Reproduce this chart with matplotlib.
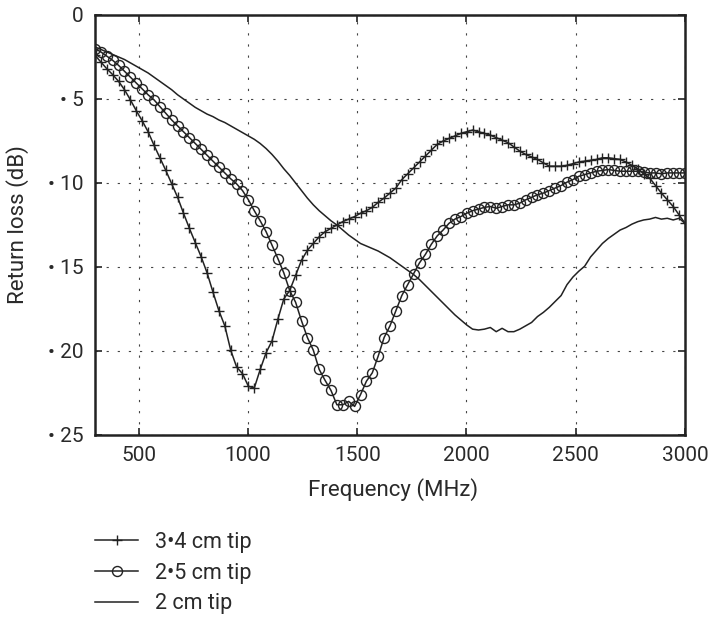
import matplotlib
matplotlib.use("Agg")
import matplotlib.pyplot as plt

plt.rcParams['font.family'] = ['Roboto', 'DejaVu Sans']

freq = [300, 327, 354, 381, 408, 435, 462, 489, 516, 543, 570, 597, 624, 651, 678, 705,
        732, 759, 786, 813, 840, 867, 894, 921, 948, 975, 1002, 1029, 1056, 1083, 1110,
        1137, 1164, 1191, 1218, 1245, 1272, 1299, 1326, 1353, 1380, 1407, 1434, 1461,
        1488, 1515, 1542, 1569, 1596, 1623, 1650, 1677, 1704, 1731, 1758, 1785, 1812,
        1839, 1866, 1893, 1920, 1947, 1974, 2001, 2028, 2055, 2082, 2109, 2136, 2163,
        2190, 2217, 2244, 2271, 2298, 2325, 2352, 2379, 2406, 2433, 2460, 2487, 2514,
        2541, 2568, 2595, 2622, 2649, 2676, 2703, 2730, 2757, 2784, 2811, 2838, 2865,
        2892, 2919, 2946, 2973, 3000]

tip_34 = [2.4, 2.8, 3.2, 3.55, 3.95, 4.45, 5.05, 5.7, 6.3, 6.95, 7.75, 8.5, 9.25, 10.05,
          10.85, 11.8, 12.7, 13.55, 14.4, 15.35, 16.5, 17.6, 18.5, 19.95, 20.95, 21.35,
          22.1, 22.2, 21.1, 20.1, 19.4, 18.1, 16.9, 16.4, 15.5, 14.6, 14.0, 13.6, 13.2,
          12.9, 12.7, 12.5, 12.3, 12.15, 12.0, 11.8, 11.65, 11.45, 11.15, 10.9, 10.6,
          10.3, 9.8, 9.45, 9.1, 8.75, 8.4, 8.05, 7.7, 7.5, 7.35, 7.2, 7.05, 6.95, 6.85,
          6.95, 7.05, 7.15, 7.3, 7.45, 7.6, 7.85, 8.1, 8.3, 8.45, 8.6, 8.8, 9.0, 9.0, 9.0,
          8.95, 8.85, 8.75, 8.7, 8.65, 8.6, 8.5, 8.5, 8.55, 8.6, 8.75, 8.95, 9.15, 9.45,
          9.7, 10.15, 10.6, 11.0, 11.4, 11.9, 12.4]

tip_25 = [2.0, 2.2, 2.45, 2.7, 3.0, 3.35, 3.7, 4.05, 4.4, 4.75, 5.05, 5.45, 5.85, 6.25,
          6.6, 6.95, 7.3, 7.65, 8.0, 8.35, 8.7, 9.05, 9.4, 9.75, 10.05, 10.45, 11.0,
          11.65, 12.25, 12.9, 13.7, 14.5, 15.35, 16.4, 17.1, 18.2, 19.2, 19.95, 21.1,
          21.75, 22.35, 23.2, 23.2, 23.0, 23.3, 22.6, 21.8, 21.3, 20.3, 19.2, 18.5, 17.6,
          16.7, 16.05, 15.4, 14.75, 14.25, 13.65, 13.15, 12.8, 12.4, 12.15, 12.0, 11.8,
          11.65, 11.55, 11.45, 11.4, 11.5, 11.4, 11.3, 11.3, 11.2, 11.0, 10.85, 10.7,
          10.6, 10.45, 10.3, 10.15, 9.95, 9.8, 9.6, 9.5, 9.4, 9.3, 9.25, 9.2, 9.25, 9.3,
          9.3, 9.3, 9.3, 9.35, 9.4, 9.4, 9.45, 9.4, 9.4, 9.4, 9.4]

tip_2 = [1.9, 2.05, 2.2, 2.35, 2.5, 2.65, 2.85, 3.05, 3.25, 3.45, 3.7, 3.95, 4.2, 4.45,
         4.75, 5.0, 5.25, 5.5, 5.7, 5.9, 6.05, 6.25, 6.4, 6.6, 6.8, 7.0, 7.2, 7.4, 7.65,
         7.95, 8.3, 8.7, 9.15, 9.55, 10.0, 10.45, 10.9, 11.3, 11.65, 11.95, 12.25, 12.5,
         12.8, 13.1, 13.35, 13.6, 13.75, 13.9, 14.05, 14.25, 14.45, 14.7, 14.95, 15.2,
         15.45, 15.75, 16.1, 16.45, 16.8, 17.15, 17.5, 17.85, 18.15, 18.45, 18.7, 18.75,
         18.7, 18.6, 18.85, 18.65, 18.85, 18.85, 18.7, 18.5, 18.3, 17.95, 17.7, 17.4,
         17.05, 16.7, 16.05, 15.6, 15.25, 14.95, 14.4, 14.0, 13.6, 13.3, 13.05, 12.8,
         12.65, 12.45, 12.3, 12.2, 12.15, 12.05, 12.15, 12.1, 12.2, 12.1, 12.4]

labels = ['3\u20224 cm tip', '2\u20225 cm tip', '2 cm tip']
xticks = [500, 1000, 1500, 2000, 2500, 3000]
yticks = [0, 5, 10, 15, 20, 25]
yticklabels = ['0', '\u2022 5', '\u2022 10', '\u2022 15', '\u2022 20', '\u2022 25']

fig = plt.figure(figsize=(7.11, 6.19), dpi=100)
ax = fig.add_axes([95 / 711, 1 - 435 / 619, 590 / 711, 420 / 619])

c = '#222222'
tc = '#2a2a2a'
ax.plot(freq, tip_34, color=c, lw=1.1, marker='+', ms=7, mew=1.0, label=labels[0])
ax.plot(freq, tip_25, color=c, lw=1.1, marker='o', ms=7.2, mfc='none', mew=1.0,
        label=labels[1])
ax.plot(freq, tip_2, color=c, lw=1.1, label=labels[2])

ax.set_xlim(300, 3000)
ax.set_ylim(25, 0)
ax.set_xticks(xticks)
ax.set_yticks(yticks)
ax.set_yticklabels(yticklabels)
ax.tick_params(direction='in', length=5, width=1.2, top=True, right=True,
               labelsize=15, colors=c, labelcolor=tc, pad=8)
ax.grid(True, color='#444444', lw=0.8, linestyle=(0, (2, 8)))
for s in ax.spines.values():
    s.set_linewidth(1.8)
    s.set_color(c)

ax.set_xlabel('Frequency (MHz)', fontsize=16, color=tc)
ax.set_ylabel('Return loss (dB)', fontsize=16, color=tc)
ax.xaxis.set_label_coords(0.505, -0.103)
ax.yaxis.set_label_coords(-0.112, 0.5)

fig.legend(loc='upper left', bbox_to_anchor=(95 / 711, 1 - 532 / 619),
           frameon=False, fontsize=15.5, numpoints=1, handlelength=2.0,
           handletextpad=0.8, labelspacing=0.45, borderpad=0, borderaxespad=0,
           labelcolor=tc)

fig.savefig('out.png', dpi=100)
